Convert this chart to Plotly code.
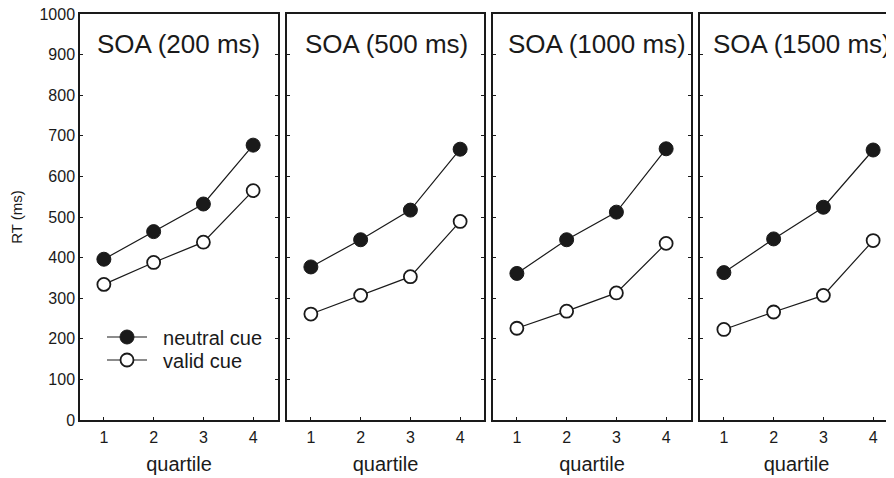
import plotly.graph_objects as go

quartiles = [1, 2, 3, 4]
panel_titles = ["SOA (200 ms)", "SOA (500 ms)", "SOA (1000 ms)", "SOA (1500 ms)"]
neutral_200 = [396, 464, 532, 677]
valid_200 = [334, 388, 438, 565]
neutral_500 = [377, 444, 517, 667]
valid_500 = [261, 307, 353, 489]
neutral_1000 = [361, 444, 512, 668]
valid_1000 = [226, 268, 313, 435]
neutral_1500 = [363, 446, 524, 665]
valid_1500 = [223, 266, 307, 442]
y_ticks = [0, 100, 200, 300, 400, 500, 600, 700, 800, 900, 1000]

neutral = [neutral_200, neutral_500, neutral_1000, neutral_1500]
valid = [valid_200, valid_500, valid_1000, valid_1500]

# page has an 8px body margin: work in figure coords = page coords - 8
OFF = 8
W, H = 894 - OFF, 478 - OFF
px_domains = [(80, 278), (287, 484), (493, 691), (700, 893)]
ytop, ybot = 14, 420
spacing = 49.75
title_x = [0.075, 0.08, 0.066, 0.058]

FONT = "Liberation Sans, Arial, sans-serif"
INK = "#1a1a1a"
NB = "\u00a0\u00a0"

fig = go.Figure()
for i in range(4):
    xa = "x" if i == 0 else f"x{i+1}"
    ya = "y" if i == 0 else f"y{i+1}"
    fig.add_trace(go.Scatter(
        x=quartiles, y=neutral[i], mode="lines+markers", xaxis=xa, yaxis=ya,
        name=NB + "neutral cue", showlegend=(i == 0), legend="legend",
        line=dict(color=INK, width=1.2),
        marker=dict(symbol="circle", size=14, color=INK, line=dict(color=INK, width=1)),
    ))
    fig.add_trace(go.Scatter(
        x=quartiles, y=valid[i], mode="lines+markers", xaxis=xa, yaxis=ya,
        name=NB + "valid cue", showlegend=(i == 0), legend="legend2",
        line=dict(color=INK, width=1.2),
        marker=dict(symbol="circle", size=13, color="white", line=dict(color=INK, width=1.8)),
    ))

leg_common = dict(xanchor="left", yanchor="middle", bgcolor="rgba(0,0,0,0)",
                  font=dict(size=20, family=FONT, color=INK), itemwidth=40)
layout = dict(
    width=W, height=H, margin=dict(l=0, r=0, t=0, b=0),
    paper_bgcolor="white", plot_bgcolor="white",
    font=dict(family=FONT, color=INK),
    showlegend=True,
    legend=dict(x=(102 - OFF) / W, y=1 - (337 - OFF) / H, **leg_common),
    legend2=dict(x=(102 - OFF) / W, y=1 - (360 - OFF) / H, **leg_common),
)
annotations = []
for i in range(4):
    l, r = px_domains[i]
    xkey = "xaxis" if i == 0 else f"xaxis{i+1}"
    ykey = "yaxis" if i == 0 else f"yaxis{i+1}"
    ya = "y" if i == 0 else f"y{i+1}"
    xa = "x" if i == 0 else f"x{i+1}"
    rng = [0.52, 0.52 + (r - l) / spacing]
    layout[xkey] = dict(
        domain=[(l - OFF) / W, (r - OFF) / W], range=rng, anchor=ya,
        tickvals=quartiles, ticktext=[str(q) for q in quartiles],
        ticks="inside", ticklen=3, tickcolor=INK, showgrid=False, zeroline=False,
        showline=True, linecolor=INK, linewidth=1.5, mirror=True,
        tickfont=dict(size=16, family=FONT, color=INK),
        title=dict(text="quartile", font=dict(size=20, family=FONT, color=INK), standoff=12),
        automargin=False, ticklabelstandoff=2,
    )
    yd = dict(
        domain=[1 - (ybot - OFF) / H, 1 - (ytop - OFF) / H], range=[0, 1000], anchor=xa,
        tickvals=y_ticks, ticks="inside", ticklen=3, tickcolor=INK,
        showgrid=False, zeroline=False, showline=True, linecolor=INK, linewidth=1.5,
        mirror=("ticks" if i < 3 else False), showticklabels=(i == 0),
        tickfont=dict(size=16, family=FONT, color=INK), automargin=False,
        ticklabeloverflow="allow",
    )
    if i == 0:
        yd["title"] = dict(text="RT (ms)", font=dict(size=15, family=FONT, color=INK), standoff=21)
    layout[ykey] = yd
    annotations.append(dict(
        text=panel_titles[i], xref=f"{xa} domain", yref=f"{ya} domain",
        x=title_x[i], y=0.967, xanchor="left", yanchor="top", showarrow=False,
        font=dict(size=26, family=FONT, color=INK),
    ))
layout["annotations"] = annotations
fig.update_layout(**layout)
fig.write_html("out.html")
